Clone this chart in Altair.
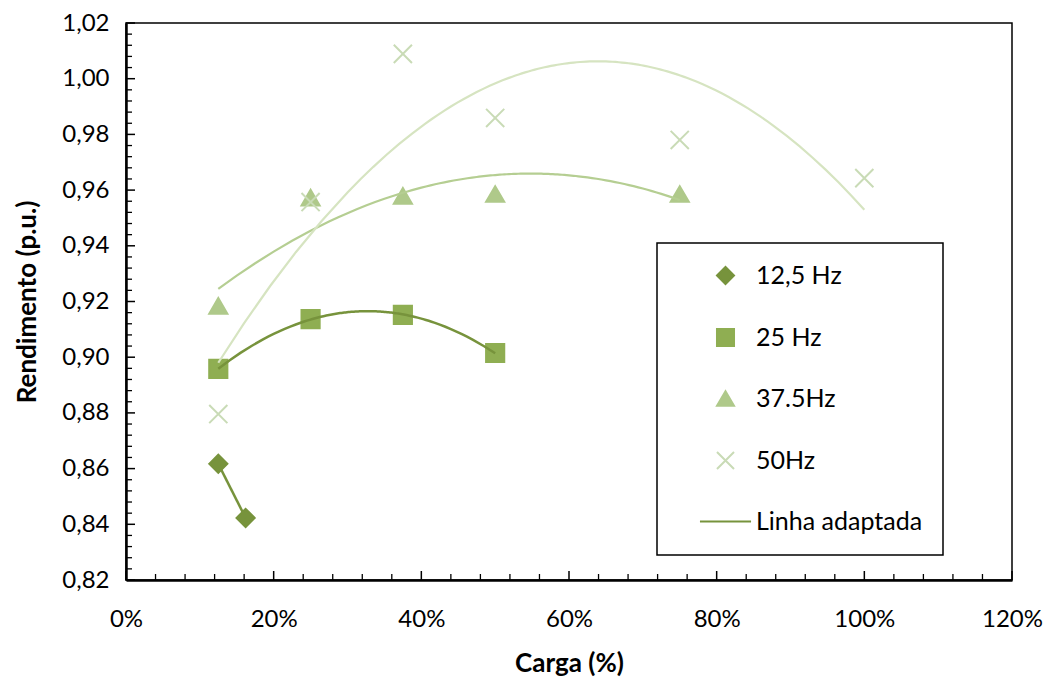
import altair as alt
import pandas as pd

FONT = "Lato"

# ---- data ----
series_names = ["12,5 Hz", " 25 Hz", "37.5Hz", "50Hz"]
legend_entries = series_names + ["Linha adaptada"]

load_125 = [12.5, 16.2]
eff_125 = [0.8617, 0.8423]
load_25 = [12.5, 25.0, 37.5, 50.0]
eff_25 = [0.8958, 0.9137, 0.9152, 0.9015]
load_375 = [12.5, 25.0, 37.5, 50.0, 75.0]
eff_375 = [0.9184, 0.9573, 0.9579, 0.9586, 0.9586]
load_50 = [12.5, 25.0, 37.5, 50.0, 75.0, 100.0]
eff_50 = [0.8796, 0.9557, 1.0089, 0.9859, 0.9780, 0.9643]

x_tick_values = [0, 20, 40, 60, 80, 100, 120]
y_tick_values = [0.82, 0.84, 0.86, 0.88, 0.90, 0.92, 0.94, 0.96, 0.98, 1.00, 1.02]
x_minor_values = [4 * i for i in range(31)]
y_minor_values = [round(0.82 + 0.004 * i, 3) for i in range(51)]

# ---- styles ----
marker_shapes = ["diamond", "square", "triangle-up", "M-1,-1L1,1M-1,1L1,-1", "M-3,0L3,0"]
marker_fill = ["#77933C", "#8FAE52", "#AFC98A", "transparent", "transparent"]
marker_stroke = ["#77933C", "#8FAE52", "#AFC98A", "#C9DBB6", "#77933C"]
trend_colors = {"12,5 Hz": "#77933C", " 25 Hz": "#77933C", "37.5Hz": "#B5CE92", "50Hz": "#D6E4C1"}
trend_widths = {"12,5 Hz": 2.5, " 25 Hz": 2.5, "37.5Hz": 2.2, "50Hz": 2.2}

W, H = 886, 557

series_data = [
    (series_names[0], load_125, eff_125),
    (series_names[1], load_25, eff_25),
    (series_names[2], load_375, eff_375),
    (series_names[3], load_50, eff_50),
]
rows = []
for name, xs, ys in series_data:
    for xv, yv in zip(xs, ys):
        rows.append({"series": name, "load": xv, "eff": yv})
df = pd.DataFrame(rows)

x_scale = alt.Scale(domain=[0, 120], nice=False, zero=False)
y_scale = alt.Scale(domain=[0.82, 1.02], nice=False, zero=False)

x_axis = alt.Axis(
    values=x_tick_values, labelExpr="datum.value + '%'", title="Carga (%)",
    labelPadding=27, labelFlush=False, labelOverlap=False,
    titleX=W / 2, titleY=83, titleBaseline="middle",
)
y_axis = alt.Axis(
    values=y_tick_values, labelExpr="replace(format(datum.value, '.2f'), '.', ',')",
    title="Rendimento (p.u.)", labelPadding=17, labelFlush=False, labelOverlap=False,
    titleX=-99, titleY=H / 2, titleAngle=270, titleBaseline="middle", titleAlign="center",
)


def legend():
    return alt.Legend(title=None)


def X(field):
    return alt.X(f"{field}:Q", scale=x_scale, axis=x_axis)


def Y(field):
    return alt.Y(f"{field}:Q", scale=y_scale, axis=y_axis)


points = alt.Chart(df).mark_point(filled=False, strokeWidth=2, opacity=1).encode(
    x=X("load"),
    y=Y("eff"),
    shape=alt.Shape("series:N", scale=alt.Scale(domain=legend_entries, range=marker_shapes),
                    legend=legend()),
    fill=alt.Fill("series:N", scale=alt.Scale(domain=legend_entries, range=marker_fill),
                  legend=legend()),
    stroke=alt.Stroke("series:N", scale=alt.Scale(domain=legend_entries, range=marker_stroke),
                      legend=legend()),
    size=alt.value(330),
)

trend_layers = []
for name, xs, ys in series_data:
    sub = pd.DataFrame({"load": xs, "eff": ys})
    if len(xs) < 3:
        reg = alt.Chart(sub).transform_regression("load", "eff", method="linear")
    else:
        reg = alt.Chart(sub).transform_regression("load", "eff", method="poly", order=2)
    trend_layers.append(
        reg.mark_line(color=trend_colors[name], strokeWidth=trend_widths[name]).encode(
            x=X("load"), y=Y("eff")
        )
    )

# inward tick marks (Excel style)
xt = pd.DataFrame({"load": x_minor_values, "major": [v % 20 == 0 for v in x_minor_values]})
yt = pd.DataFrame({"eff": y_minor_values,
                   "major": [abs(round(v * 50) - v * 50) < 1e-6 for v in y_minor_values]})

x_minor_rules = alt.Chart(xt).transform_filter("!datum.major").mark_rule(color="black", strokeWidth=1.3).encode(
    x=X("load"), y=alt.value(H), y2=alt.value(H - 6))
x_major_rules = alt.Chart(xt).transform_filter("datum.major").mark_rule(color="black", strokeWidth=1.5).encode(
    x=X("load"), y=alt.value(H), y2=alt.value(H - 9))
y_minor_rules = alt.Chart(yt).transform_filter("!datum.major").mark_rule(color="black", strokeWidth=1.3).encode(
    y=Y("eff"), x=alt.value(0), x2=alt.value(6))
y_major_rules = alt.Chart(yt).transform_filter("datum.major").mark_rule(color="black", strokeWidth=1.5).encode(
    y=Y("eff"), x=alt.value(0), x2=alt.value(9))

chart = alt.layer(
    x_minor_rules, x_major_rules, y_minor_rules, y_major_rules,
    points, *trend_layers,
).properties(
    width=W, height=H,
    autosize=alt.AutoSizeParams(type="none"),
    padding={"left": 118, "top": 15, "right": 36, "bottom": 99},
).configure_view(
    stroke="black", strokeWidth=1.5
).configure_axis(
    domainColor="black", domainWidth=2.5, grid=False, ticks=False, tickSize=0,
    labelFont=FONT, labelFontSize=24, labelColor="black",
    titleFont=FONT, titleFontSize=26, titleFontWeight="bold", titleColor="black",
).configure_legend(
    orient="none", legendX=531, legendY=220, padding=20,
    symbolOffset=36, labelOffset=18, rowPadding=35,
    strokeColor="black", strokeWidth=1.5, fillColor="white",
    labelFont=FONT, labelFontSize=25, labelColor="black",
    symbolSize=290, symbolStrokeWidth=2, labelLimit=400,
)

chart.save("out.html", embed_options={"renderer": "svg", "actions": False})
